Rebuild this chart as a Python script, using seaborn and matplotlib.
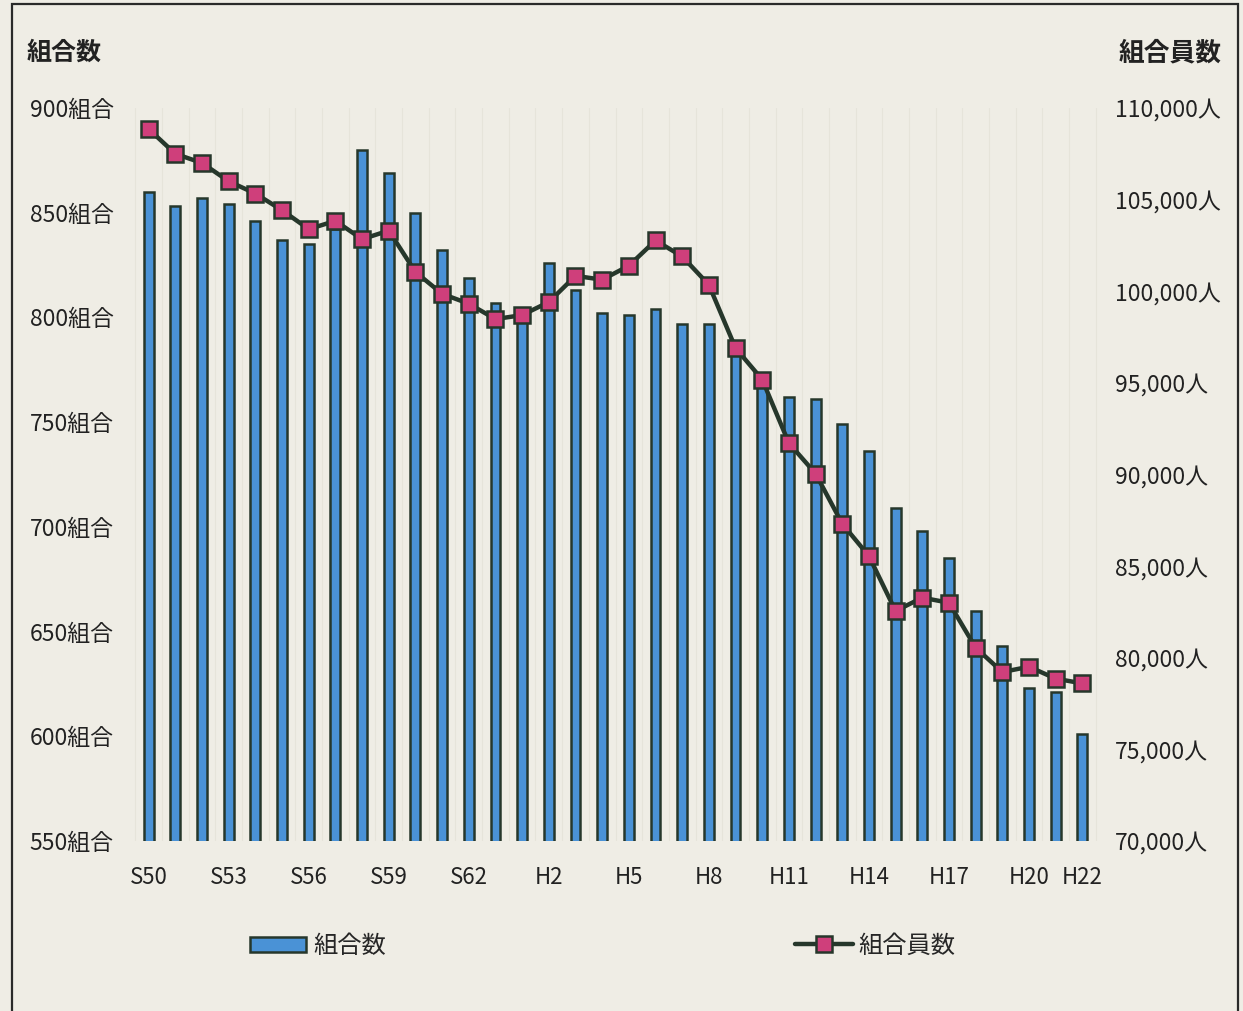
import numpy as np
import pandas as pd
import matplotlib
matplotlib.use("Agg")
import matplotlib.pyplot as plt
from matplotlib.patches import Rectangle
from matplotlib.lines import Line2D
import seaborn as sns

# years S50..S63, H1..H22
years = ["S%d" % y for y in range(50, 64)] + ["H%d" % y for y in range(1, 23)]
unions = [860, 853, 857, 854, 846, 837, 835, 842, 880, 869, 850, 832, 819, 807,
          798, 826, 813, 802, 801, 804, 797, 797, 783, 768, 762, 761, 749, 736,
          709, 698, 685, 660, 643, 623, 621, 601]
members = [108850, 107500, 107000, 106000, 105330, 104420, 103390, 103840, 102840,
           103310, 101050, 99860, 99320, 98480, 98700, 99410, 100840, 100630,
           101390, 102770, 101900, 100350, 96900, 95180, 91710, 90050, 87310,
           85550, 82550, 83280, 83000, 80550, 79220, 79510, 78860, 78600]
tick_years = ["S50", "S53", "S56", "S59", "S62", "H2", "H5", "H8",
              "H11", "H14", "H17", "H20", "H22"]
left_ticks = [550, 600, 650, 700, 750, 800, 850, 900]
right_ticks = [70000, 75000, 80000, 85000, 90000, 95000, 100000, 105000, 110000]

df = pd.DataFrame({"idx": np.arange(len(years)), "year": years,
                   "unions": unions, "members": members})

bg = "#efede5"
bar_color = "#4a92d6"
edge = "#26372b"
pink = "#cf3f7b"
txt = "#222222"

sns.set_theme(style="white")
plt.rcParams["font.family"] = ["Noto Sans CJK JP", "DejaVu Sans"]

fig = plt.figure(figsize=(12.43, 10.11), dpi=100, facecolor=bg)
ax = fig.add_axes([122 / 1243, 1 - 841 / 1011, (1109 - 122) / 1243, (841 - 108) / 1011])
ax.set_facecolor("none")

sns.barplot(data=df, x="idx", y="unions", color=bar_color, saturation=1,
            width=0.37, edgecolor=edge, linewidth=1.8, ax=ax)
ax.set_xlim(-1, len(years))
ax.set_ylim(550, 900)
ax.set_yticks(left_ticks)
ax.set_yticklabels(["%d組合" % v for v in left_ticks], fontsize=16.5, color=txt)
pos = [years.index(t) for t in tick_years]
ax.set_xticks(pos)
ax.set_xticklabels(tick_years, fontsize=16, color=txt)
ax.tick_params(axis="x", length=0, pad=18)
ax.tick_params(axis="y", length=0, pad=6)
ax.set_xlabel("")
ax.set_ylabel("")

# faint background grid from the scanned original
for i in range(len(years) + 1):
    ax.axvline(i - 0.5, color="#e6e4da", lw=0.8, zorder=0)

ax2 = ax.twinx()
sns.lineplot(data=df, x="idx", y="members", color=edge, lw=3.2, marker="s",
             markersize=12, markerfacecolor=pink, markeredgecolor=edge,
             markeredgewidth=1.8, ax=ax2)
ax2.set_ylim(70000, 110000)
ax2.set_yticks(right_ticks)
ax2.set_yticklabels(["{:,}人".format(v) for v in right_ticks], fontsize=16.5, color=txt)
ax2.tick_params(axis="y", length=0, pad=4)
ax2.set_ylabel("")
ax2.set_xlim(-1, len(years))

for a in (ax, ax2):
    for s in a.spines.values():
        s.set_visible(False)

fig.text(27 / 1243, 1 - 53 / 1011, "組合数", fontsize=18, fontweight="bold",
         ha="left", va="center", color=txt)
fig.text(1222 / 1243, 1 - 53 / 1011, "組合員数", fontsize=18.5, fontweight="bold",
         ha="right", va="center", color=txt)

bar_handle = Rectangle((0, 0), 1, 1, facecolor=bar_color, edgecolor=edge, linewidth=1.8)
line_handle = Line2D([], [], color=edge, lw=3.2, marker="s", markersize=12,
                     markerfacecolor=pink, markeredgecolor=edge, markeredgewidth=1.8)
fig.legend([bar_handle], ["組合数"], loc="center left",
           bbox_to_anchor=(228 / 1243, 1 - 946 / 1011), frameon=False,
           fontsize=17.5, handlelength=2.3, handleheight=0.55, handletextpad=0.3)
fig.legend([line_handle], ["組合員数"], loc="center left",
           bbox_to_anchor=(773 / 1243, 1 - 946 / 1011), frameon=False,
           fontsize=17.5, handlelength=2.4, handletextpad=0.2)

# frame of the printed figure
fig.add_artist(Rectangle((12 / 1243, -0.02), (1238 - 12) / 1243, 1.02 - 4 / 1011,
                         transform=fig.transFigure, fill=False,
                         edgecolor="#2a2a2a", lw=1.6))

fig.savefig("out.png", dpi=100, facecolor=bg)
